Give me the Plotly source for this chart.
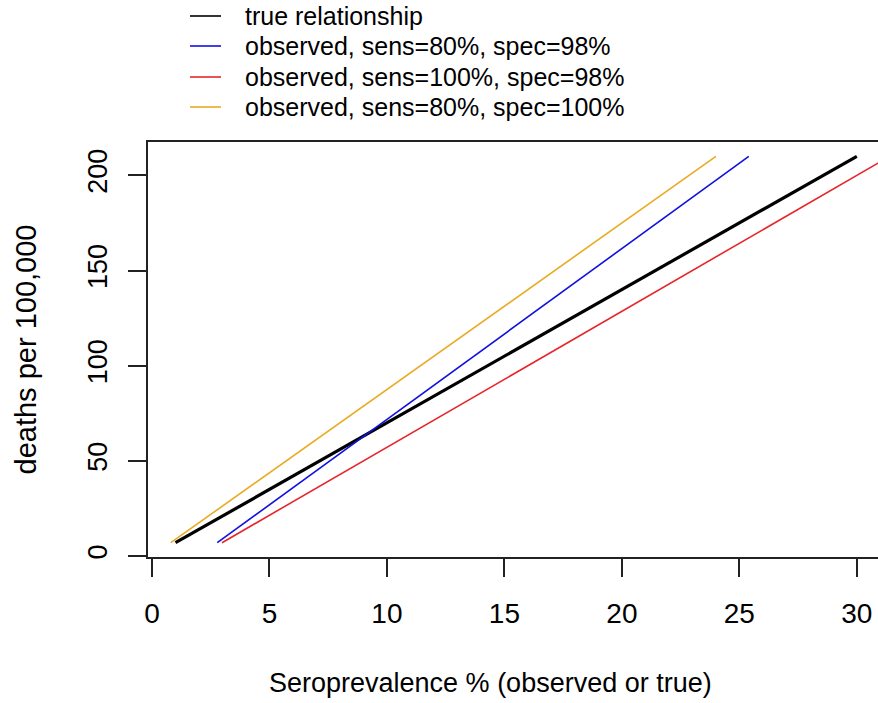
import plotly.graph_objects as go

# ---- data ----
series_names = [
    "true relationship",
    "observed, sens=80%, spec=98%",
    "observed, sens=100%, spec=98%",
    "observed, sens=80%, spec=100%",
]
true_x = [1.0, 30.0]
true_y = [7.0, 210.0]
blue_x = [2.78, 25.4]
blue_y = [7.0, 210.0]
red_x = [2.98, 31.4]
red_y = [7.0, 210.0]
orange_x = [0.8, 24.0]
orange_y = [7.0, 210.0]

x_ticks = [0, 5, 10, 15, 20, 25, 30]
y_ticks = [0, 50, 100, 150, 200]
x_title = "Seroprevalence % (observed or true)"
y_title = "deaths per 100,000"

colors = ["#000000", "#1010e0", "#e6262b", "#eaaa22"]
widths = [3.2, 1.6, 1.6, 1.6]

W, H = 878, 703
L, R, T, B = 148, 0, 142, 146
FONT = "Liberation Sans, Arial, sans-serif"
plot_w = W - L - R
plot_h = H - T - B

fig = go.Figure()
for name, xs, ys, c, w in zip(series_names,
                              [true_x, blue_x, red_x, orange_x],
                              [true_y, blue_y, red_y, orange_y],
                              colors, widths):
    fig.add_trace(go.Scatter(x=xs, y=ys, mode="lines", name=name,
                             line=dict(color=c, width=w), showlegend=False))

# manual legend (R style, above the plot)
row_y_px = [16, 46, 77, 107]
for name, c, w, py in zip(series_names, colors, widths, row_y_px):
    yp = 1 + (T - py) / plot_h
    fig.add_shape(type="line", xref="paper", yref="paper",
                  x0=(190 - L) / plot_w, x1=(221 - L) / plot_w,
                  y0=yp, y1=yp, line=dict(color=c, width=1.6))
    fig.add_annotation(xref="paper", yref="paper",
                       x=(243 - L) / plot_w, y=yp, text=name,
                       showarrow=False, xanchor="left", yanchor="middle",
                       font=dict(size=25, color="#000000", family=FONT))

# x axis title (centred like the reference, which is cropped on the right)
fig.add_annotation(xref="paper", yref="paper",
                   x=(490 - L) / plot_w, y=-(683 - (T + plot_h)) / plot_h,
                   text=x_title, showarrow=False,
                   xanchor="center", yanchor="middle",
                   font=dict(size=27, color="#000000", family=FONT))

fig.update_layout(
    width=W, height=H,
    margin=dict(l=L, r=R, t=T, b=B, autoexpand=False),
    plot_bgcolor="white", paper_bgcolor="white",
    font=dict(family=FONT, color="#000000"),
    showlegend=False,
)
fig.update_xaxes(
    range=[-0.17, 30.9], tickvals=x_ticks, ticktext=[str(v) for v in x_ticks],
    showgrid=False, zeroline=False, showline=True, mirror=True,
    linecolor="#222222", linewidth=1.5,
    ticks="outside", ticklen=18, tickwidth=1.5, tickcolor="#222222",
    tickfont=dict(size=28, family=FONT), ticklabelstandoff=13,
    automargin=False,
)
fig.update_yaxes(
    range=[-0.5, 217.5], tickvals=y_ticks, ticktext=[str(v) for v in y_ticks],
    showgrid=False, zeroline=False, showline=True, mirror=False,
    linecolor="#222222", linewidth=1.5,
    ticks="outside", ticklen=18, tickwidth=1.5, tickcolor="#222222",
    tickangle=-90, tickfont=dict(size=27, family=FONT), ticklabelstandoff=10,
    title=dict(text=y_title,
               font=dict(size=29, family=FONT), standoff=38),
    automargin=False,
)

fig.write_html("out.html")
